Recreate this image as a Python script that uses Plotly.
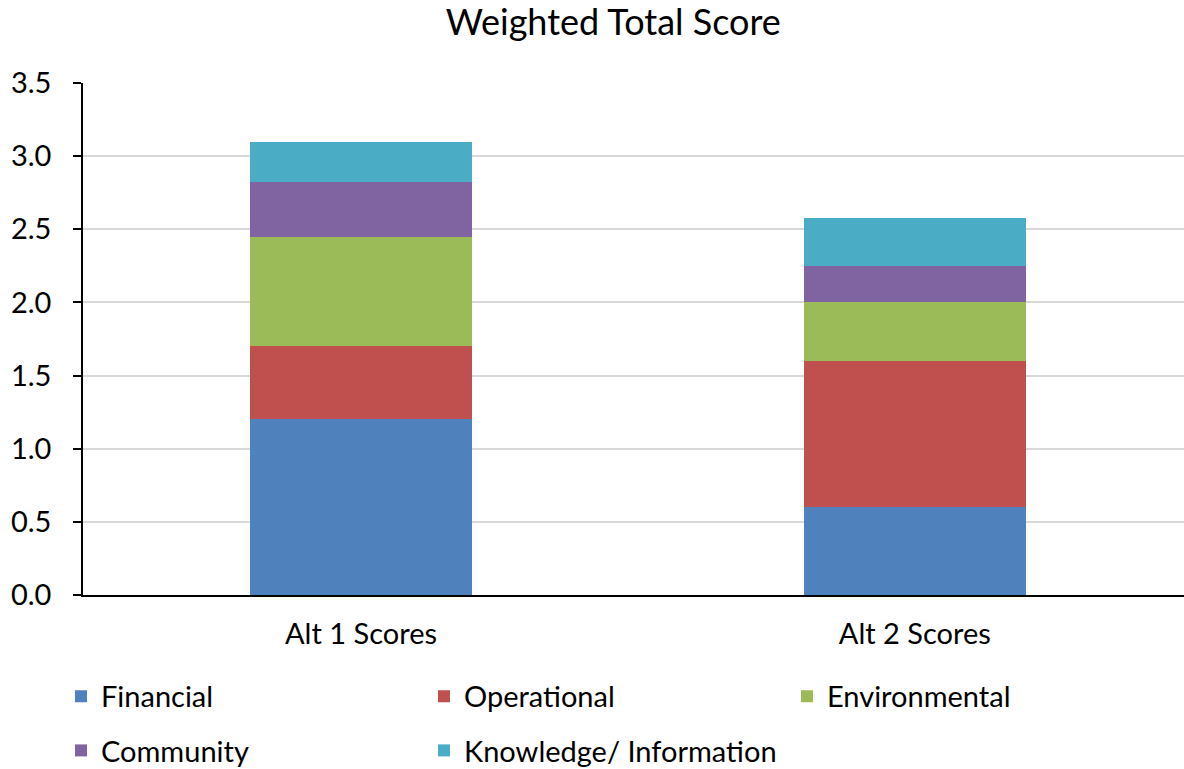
import plotly.graph_objects as go

categories = ["Alt 1 Scores", "Alt 2 Scores"]
series_names = ["Financial", "Operational", "Environmental", "Community", "Knowledge/ Information"]
financial = [1.2, 0.6]
operational = [0.5, 1.0]
environmental = [0.75, 0.4]
community = [0.37, 0.25]
knowledge = [0.28, 0.33]
y_ticks = [0.0, 0.5, 1.0, 1.5, 2.0, 2.5, 3.0, 3.5]

colors = ["#4f81bd", "#c0504d", "#9bbb59", "#8064a2", "#4bacc6"]
values = [financial, operational, environmental, community, knowledge]
# first three entries on the upper legend row, the rest on the lower row
legend_ids = ["legend", "legend", "legend", "legend2", "legend2"]

FONT = "Lato, Noto Sans, sans-serif"
FS = 29

fig = go.Figure()
for name, vals, col, lg in zip(series_names, values, colors, legend_ids):
    fig.add_trace(go.Bar(
        x=categories, y=vals, name=name,
        marker=dict(color=col, line=dict(width=0)),
        width=0.4, legend=lg,
    ))

legend_common = dict(orientation="h", x=-0.02, xanchor="left", yanchor="top",
                     entrywidth=318, entrywidthmode="pixels", traceorder="normal",
                     font=dict(size=FS, family=FONT, color="#000000"),
                     bgcolor="rgba(0,0,0,0)")

fig.update_layout(
    barmode="stack",
    width=1184, height=769,
    margin=dict(l=83, r=0, t=83, b=174, autoexpand=False),
    paper_bgcolor="white", plot_bgcolor="white",
    font=dict(family=FONT, size=FS, color="#000000"),
    title=dict(text="Weighted Total Score", x=0.518, xanchor="center",
               y=0.971, yanchor="middle", font=dict(size=36, family=FONT)),
    xaxis=dict(range=[-0.502, 1.486], showline=True, linecolor="#000000",
               linewidth=1.5, ticks="", tickfont=dict(size=FS), showgrid=False,
               ticklabelstandoff=12),
    yaxis=dict(range=[0, 3.5], tickvals=y_ticks,
               ticktext=[f"{v:.1f}" for v in y_ticks],
               showline=True, linecolor="#000000", linewidth=1.5,
               ticks="outside", ticklen=8, tickcolor="#000000", tickwidth=1.5,
               showgrid=True, gridcolor="#d9d9d9", gridwidth=2,
               tickfont=dict(size=FS), zeroline=False, ticklabelstandoff=16),
    legend=dict(y=-0.148, **legend_common),
    legend2=dict(y=-0.254, **legend_common),
    showlegend=True,
)

fig.write_html("out.html")
